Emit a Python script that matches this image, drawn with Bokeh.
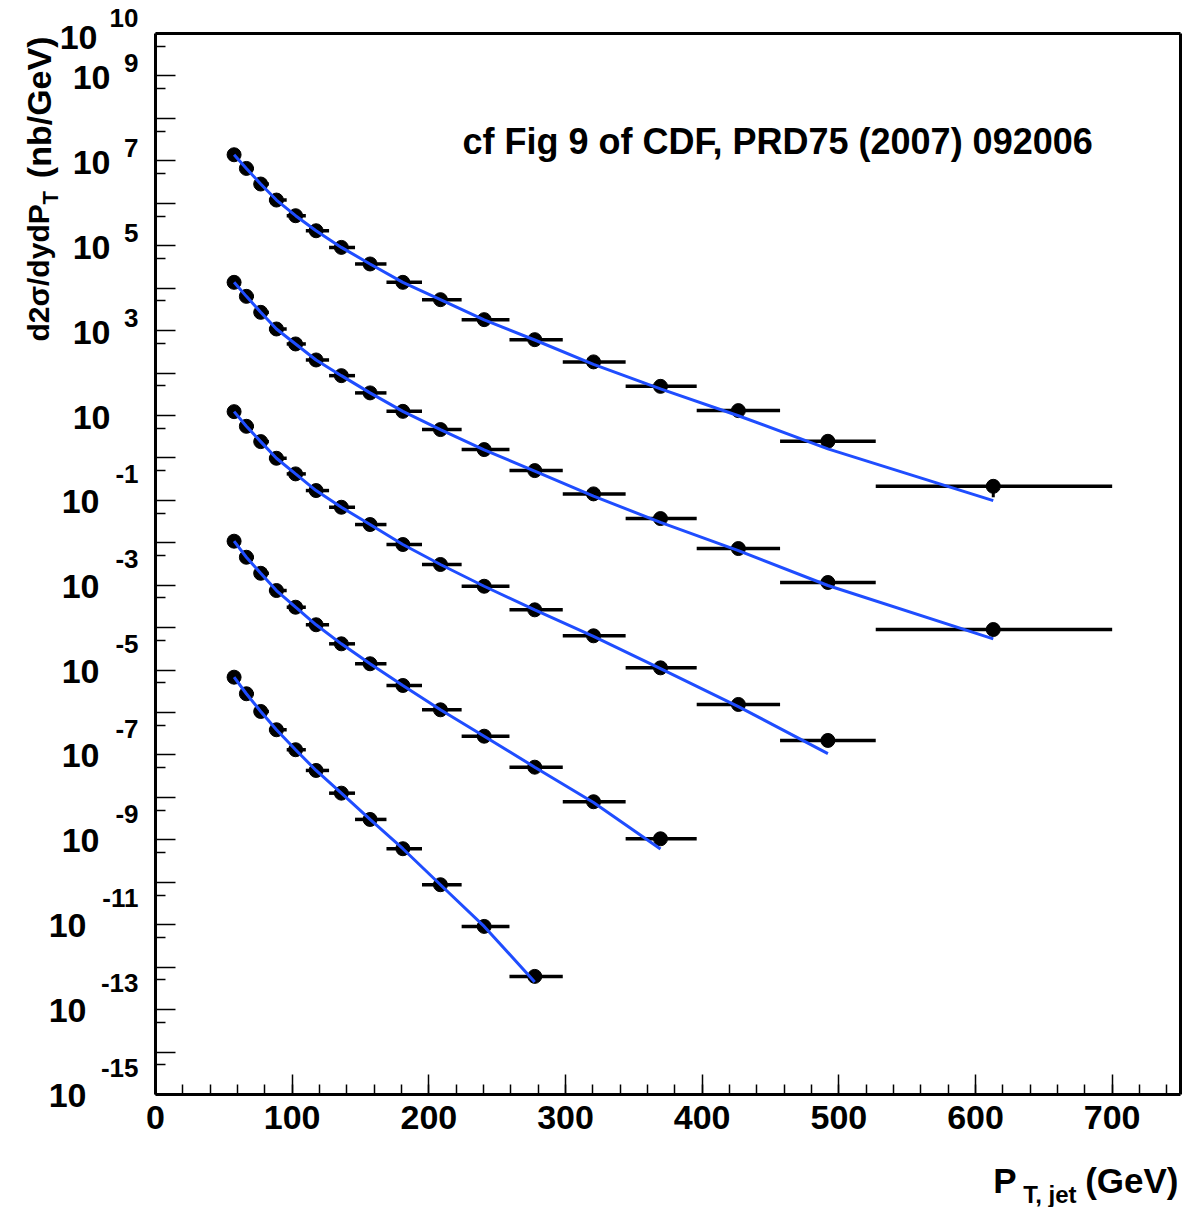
import math

from bokeh.plotting import figure
from bokeh.models import (Range1d, FixedTicker, Label, CustomJSTickFormatter,
                          LinearAxis, LogAxis)
from bokeh.embed import file_html
from bokeh.resources import INLINE

# ---------------------------------------------------------------------------
# Inclusive jet cross sections, five rapidity bins (offset for display)
# ---------------------------------------------------------------------------
bin_lo = [54, 62, 72, 83, 96, 110, 127, 146, 169, 195, 224, 259, 298, 344, 396, 457, 527]
bin_hi = [62, 72, 83, 96, 110, 127, 146, 169, 195, 224, 259, 298, 344, 396, 457, 527, 700]
pt_mean = [57.5, 66.5, 77, 88.5, 102.5, 117.5, 136, 157, 181, 208.5, 240.5,
           277.5, 320.5, 369.5, 426.5, 492, 613]

data_y1 = [1.39e7, 6.62e6, 2.84e6, 1.19e6, 5.09e5, 2.25e5, 9.12e4, 3.71e4, 1.37e4,
           5.35e3, 1.81e3, 611, 183, 48.5, 13.0, 2.46, 0.214]
theory_y1 = [1.39e7, 6.62e6, 2.84e6, 1.19e6, 5.09e5, 2.25e5, 9.12e4, 3.71e4, 1.37e4,
             5.35e3, 1.78e3, 600, 160, 42.3, 9.86, 1.63, 0.0986]

data_y2 = [1.37e4, 6.40e3, 2.69e3, 1.09e3, 484, 203, 86.7, 34.0, 12.5, 4.65, 1.57,
           0.502, 0.142, 3.72e-2, 7.31e-3, 1.16e-3, 9.04e-5]
theory_y2 = [1.37e4, 6.40e3, 2.69e3, 1.09e3, 484, 203, 86.7, 34.0, 12.5, 4.65, 1.55,
             0.49, 0.126, 3.02e-2, 6.52e-3, 9.84e-4, 5.44e-5]

data_y3 = [12.3, 5.55, 2.42, 0.98, 0.420, 0.170, 6.87e-2, 2.69e-2, 9.10e-3, 3.08e-3,
           9.46e-4, 2.63e-4, 6.43e-5, 1.13e-5, 1.55e-6, 2.20e-7]
theory_y3 = [12.3, 5.55, 2.42, 0.98, 0.420, 0.170, 6.87e-2, 2.69e-2, 9.10e-3, 3.08e-3,
             9.46e-4, 2.63e-4, 6.2e-5, 1.08e-5, 1.38e-6, 1.08e-7]

data_y4 = [1.09e-2, 4.56e-3, 1.91e-3, 7.50e-4, 3.03e-4, 1.17e-4, 4.16e-5, 1.41e-5,
           4.34e-6, 1.16e-6, 2.77e-7, 5.16e-8, 7.91e-9, 1.06e-9]
theory_y4 = [1.09e-2, 4.56e-3, 1.91e-3, 7.50e-4, 3.03e-4, 1.17e-4, 4.16e-5, 1.41e-5,
             4.34e-6, 1.16e-6, 2.77e-7, 5.16e-8, 7.6e-9, 6.12e-10]

data_y5 = [6.81e-6, 2.77e-6, 1.06e-6, 3.93e-7, 1.33e-7, 4.32e-8, 1.26e-8, 3.03e-9,
           6.18e-10, 8.77e-11, 9.14e-12, 6.07e-13]
theory_y5 = [6.81e-6, 2.77e-6, 1.06e-6, 3.93e-7, 1.33e-7, 4.32e-8, 1.26e-8, 3.03e-9,
             6.18e-10, 8.77e-11, 9.14e-12, 4.47e-13]

# vertical error bar of the last point of the top bin
last_err_lo = 0.118
last_err_hi = 0.26

y_exponents = [10, 9, 7, 5, 3, 1, -1, -3, -5, -7, -9, -11, -13, -15]
x_ticks = [0, 100, 200, 300, 400, 500, 600, 700]

X_MIN, X_MAX = 0, 750
Y_MIN, Y_MAX = 1e-15, 1e10

FONT = "Liberation Sans"
BLUE = "#1f4dff"

# ---------------------------------------------------------------------------
# Canvas geometry: the axes box sits inside a frame that spans the canvas so
# that tick labels and titles can be placed freely around it.
# ---------------------------------------------------------------------------
W, H = 1182, 1207
BOX_L, BOX_R, BOX_T, BOX_B = 155, 1180, 33, 1094
px_per_gev = (BOX_R - BOX_L) / (X_MAX - X_MIN)
px_per_dec = (BOX_B - BOX_T) / (math.log10(Y_MAX) - math.log10(Y_MIN))

x_lo = X_MIN - BOX_L / px_per_gev
x_hi = X_MAX + (W - BOX_R) / px_per_gev
y_hi = 10 ** (math.log10(Y_MAX) + BOX_T / px_per_dec)
y_lo = 10 ** (math.log10(Y_MIN) - (H - BOX_B) / px_per_dec)


def y_at(py):
    """Value on the log axis drawn at canvas row py."""
    return 10 ** (math.log10(Y_MAX) - (py - BOX_T) / px_per_dec)


def x_at(px):
    """Value on the x axis drawn at canvas column px."""
    return X_MIN + (px - BOX_L) / px_per_gev


p = figure(width=W, height=H, output_backend="svg", toolbar_location=None,
           x_range=Range1d(x_lo, x_hi), y_range=Range1d(y_lo, y_hi),
           y_axis_type="log", x_axis_location=None, y_axis_location=None,
           min_border=0, min_border_left=0, min_border_right=0,
           min_border_top=0, min_border_bottom=0)
p.grid.visible = False
p.outline_line_color = None
p.background_fill_color = "white"
p.border_fill_color = "white"


def style_ticks(ax):
    ax.major_tick_in = 20
    ax.major_tick_out = 0
    ax.minor_tick_in = 10
    ax.minor_tick_out = 0
    ax.axis_line_width = 3
    ax.axis_line_color = "black"
    ax.major_tick_line_width = 1.5
    ax.minor_tick_line_width = 1.5


# bottom axis
xa = LinearAxis(fixed_location=Y_MIN, bounds=(X_MIN, X_MAX),
                ticker=FixedTicker(ticks=x_ticks, minor_ticks=list(range(20, 750, 20))))
style_ticks(xa)
xa.major_label_text_font = FONT
xa.major_label_text_font_style = "bold"
xa.major_label_text_font_size = "34px"
xa.major_label_text_color = "black"
xa.major_label_standoff = 11
p.add_layout(xa, "below")

# left axis: ticks only, labels are drawn as "10" plus raised exponent
ya = LogAxis(fixed_location=X_MIN, bounds=(Y_MIN, Y_MAX),
             ticker=FixedTicker(ticks=[10.0 ** e for e in range(-15, 11)],
                                minor_ticks=[5 * 10.0 ** e for e in range(-15, 10)]),
             formatter=CustomJSTickFormatter(code="return ''"))
style_ticks(ya)
p.add_layout(ya, "left")

# top and right edges of the box
top = LinearAxis(fixed_location=Y_MAX, bounds=(X_MIN, X_MAX),
                 ticker=FixedTicker(ticks=[]), axis_line_width=3,
                 major_tick_line_color=None, minor_tick_line_color=None,
                 formatter=CustomJSTickFormatter(code="return ''"))
p.add_layout(top, "above")
right = LogAxis(fixed_location=X_MAX, bounds=(Y_MIN, Y_MAX),
                ticker=FixedTicker(ticks=[]), axis_line_width=3,
                major_tick_line_color=None, minor_tick_line_color=None,
                formatter=CustomJSTickFormatter(code="return ''"))
p.add_layout(right, "right")


def text_label(x, y, text, size, align="left", dx=0, dy=0, angle=0.0):
    p.add_layout(Label(x=x, y=y, x_offset=dx, y_offset=dy, text=text, angle=angle,
                       text_align=align, text_baseline="middle",
                       text_font=FONT, text_font_style="bold",
                       text_font_size=size, text_color="black"))


# y tick labels
for e in y_exponents:
    v = 10.0 ** e
    if e == 1:
        text_label(X_MIN, v, "10", "34px", "right", dx=110 - BOX_L, dy=-2)
        continue
    exp_txt = str(e)
    if e == 10:
        base_right, up, base_dy = 97, 16, -4
    elif e > 0:
        base_right, up, base_dy = 110, 13, -2
    elif len(exp_txt) == 2:
        base_right, up, base_dy = 99, 26, -1
    else:
        base_right, up, base_dy = 86, 27, -1
    text_label(X_MIN, v, "10", "34px", "right", dx=base_right - BOX_L, dy=base_dy)
    text_label(X_MIN, v, exp_txt, "26px", "right", dx=138 - BOX_L, dy=up)

# y-axis title (rotated)
text_label(x_at(38), y_at(341), "d2\u03c3/dydP", "30px", "left", angle=math.pi / 2)
text_label(x_at(50), y_at(204), "T", "22px", "left", angle=math.pi / 2)
text_label(x_at(38), y_at(36), "(nb/GeV)", "34px", "right", angle=math.pi / 2)

# x-axis title: P_{T, jet} (GeV)
text_label(x_at(1178), y_at(1180), "(GeV)", "35px", "right")
text_label(x_at(1076), y_at(1194), "T, jet", "24px", "right")
text_label(x_at(1016), y_at(1180), "P", "35px", "right")

# reference note
text_label(x_at(462), y_at(141), "cf Fig 9 of CDF, PRD75 (2007) 092006", "36px", "left")

# ---------------------------------------------------------------------------
series = [(data_y1, theory_y1), (data_y2, theory_y2), (data_y3, theory_y3),
          (data_y4, theory_y4), (data_y5, theory_y5)]

for data, theory in series:
    n = len(data)
    p.segment(x0=bin_lo[:n], x1=bin_hi[:n], y0=data, y1=data,
              line_color="black", line_width=3.5)
    p.scatter(x=pt_mean[:n], y=data, size=14, marker="circle",
              fill_color="black", line_color="black")

p.segment(x0=[pt_mean[-1]], x1=[pt_mean[-1]], y0=[last_err_lo], y1=[last_err_hi],
          line_color="black", line_width=3)

for data, theory in series:
    n = len(theory)
    p.line(x=pt_mean[:n], y=theory, line_color=BLUE, line_width=3)

open("out.html", "w").write(file_html(p, INLINE))
